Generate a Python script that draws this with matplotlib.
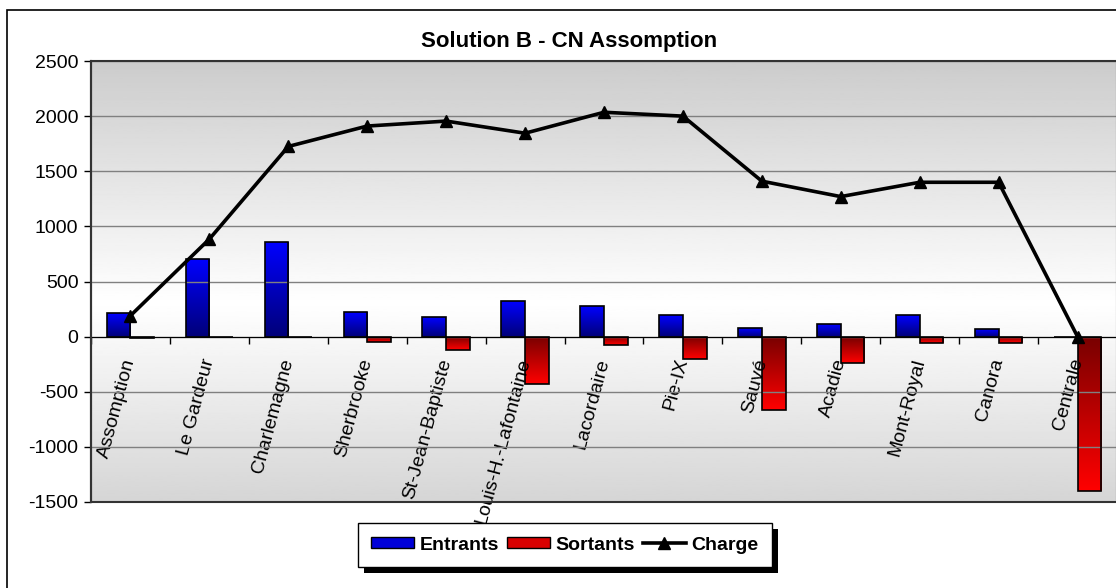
import numpy as np
import matplotlib
matplotlib.use("Agg")
import matplotlib.pyplot as plt
from matplotlib.colors import LinearSegmentedColormap
from matplotlib.patches import Patch, Rectangle
from matplotlib.lines import Line2D

plt.rcParams['font.family'] = ['Liberation Sans', 'DejaVu Sans']
plt.rcParams['axes.unicode_minus'] = False

# Données
stations = ["Assomption", "Le Gardeur", "Charlemagne", "Sherbrooke", "St-Jean-Baptiste",
            "Louis-H.-Lafontaine", "Lacordaire", "Pie-IX", "Sauvé", "Acadie",
            "Mont-Royal", "Canora", "Centrale"]
entrants = [210, 700, 860, 225, 175, 320, 275, 195, 80, 115, 195, 65, 0]
sortants = [-15, 0, 0, -45, -125, -430, -80, -205, -670, -235, -60, -60, -1400]
charge = [190, 885, 1725, 1910, 1955, 1845, 2035, 2000, 1410, 1270, 1400, 1400, 0]
yticks = [-1500, -1000, -500, 0, 500, 1000, 1500, 2000, 2500]

W, H = 1116, 588
fig = plt.figure(figsize=(W / 100, H / 100), dpi=100)
ax = fig.add_axes([91 / W, 1 - 502 / H, 1026 / W, 441 / H])

x = np.arange(len(stations))
bw = 0.3

# fond dégradé gris -> blanc -> gris
t = np.linspace(0, 1, 256)
fond = np.clip(1 - np.abs(t - 0.45) / 0.55, 0, 1)
grey = 0.80 + 0.20 * fond
ax.imshow(grey.reshape(-1, 1), cmap='gray', vmin=0, vmax=1, aspect='auto',
          extent=[0, 1, 0, 1], transform=ax.transAxes, origin='lower', zorder=0)

cm_bleu = LinearSegmentedColormap.from_list("bleu", ["#000078", "#0000ff"])
cm_rouge = LinearSegmentedColormap.from_list("rouge", ["#ff0000", "#780000"])

b1 = ax.bar(x - bw / 2, entrants, bw, facecolor='none', edgecolor='black', lw=1.2, zorder=3)
b2 = ax.bar(x + bw / 2, sortants, bw, facecolor='none', edgecolor='black', lw=1.2, zorder=3)

grad = np.linspace(0, 1, 128).reshape(-1, 1)
for bars, cm in ((b1, cm_bleu), (b2, cm_rouge)):
    for r in bars:
        bb = r.get_bbox()
        y_bas, y_haut = min(bb.y0, bb.y1), max(bb.y0, bb.y1)
        if y_haut - y_bas == 0:
            continue
        im = ax.imshow(grad, cmap=cm, aspect='auto', origin='lower',
                       extent=[bb.x0, bb.x1, y_bas, y_haut], zorder=2)
        im.set_clip_path(r)

ax.plot(x, charge, color='black', lw=2.6, marker='^', ms=9, zorder=4, clip_on=False)

ax.set_xlim(-0.5, len(stations) - 0.5)
ax.set_ylim(-1500, 2500)
ax.set_yticks(yticks)
ax.set_axisbelow(False)
ax.yaxis.grid(True, color='#808080', lw=1)
for gl in ax.get_ygridlines():
    gl.set_zorder(1)
ax.tick_params(axis='y', direction='out', length=5, width=1, labelsize=14, pad=4)

# axe horizontal à y = 0
ax.spines['bottom'].set_position(('data', 0))
ax.spines['bottom'].set_zorder(3.5)
ax.spines['top'].set_visible(False)
ax.spines['right'].set_visible(False)
ax.spines['left'].set_linewidth(1.5)
ax.set_xticks(x)
ax.set_xticklabels(stations, rotation=75, ha='right', va='center', rotation_mode='anchor')
ax.set_xticks(np.arange(len(stations) + 1) - 0.5, minor=True)
ax.tick_params(axis='x', which='major', length=0, labelsize=14, pad=16)
ax.tick_params(axis='x', which='minor', direction='out', length=5, width=1)
for lab in ax.get_xticklabels():
    lab.set_zorder(5)

ax.add_patch(Rectangle((0, 0), 1, 1, transform=ax.transAxes, fill=False,
                       edgecolor='#333333', lw=1.5, zorder=6, clip_on=False))

# cadre extérieur du graphique
fig.add_artist(Rectangle((7 / W, -0.1), 1.2, 1.1 - 10 / H, transform=fig.transFigure,
                         fill=False, edgecolor='black', lw=1.2))

fig.text(569 / W, 1 - 42 / H, "Solution B - CN Assomption", ha='center', va='center',
         fontsize=16, fontweight='bold')

handles = [Patch(facecolor='#0000d8', edgecolor='black'),
           Patch(facecolor='#d80000', edgecolor='black'),
           Line2D([], [], color='black', lw=2.6, marker='^', ms=9)]
leg = fig.legend(handles, ["Entrants", "Sortants", "Charge"], loc='center',
                 bbox_to_anchor=(565 / W, 1 - 545 / H), bbox_transform=fig.transFigure,
                 ncol=3, prop={'weight': 'bold', 'size': 14}, frameon=True, fancybox=False,
                 edgecolor='black', framealpha=1, handlelength=2.2, handleheight=0.55,
                 handletextpad=0.3, columnspacing=0.4, borderpad=0.7, borderaxespad=0)
leg.get_frame().set_linewidth(1.0)
leg.set_zorder(6)

# ombre noire de la légende
fig.canvas.draw()
bb = leg.get_window_extent()
fig.add_artist(Rectangle((bb.x0 + 6, bb.y0 - 6), bb.width, bb.height, transform=None,
                         facecolor='black', edgecolor='none', zorder=5.5))

fig.savefig("out.png", dpi=100)
